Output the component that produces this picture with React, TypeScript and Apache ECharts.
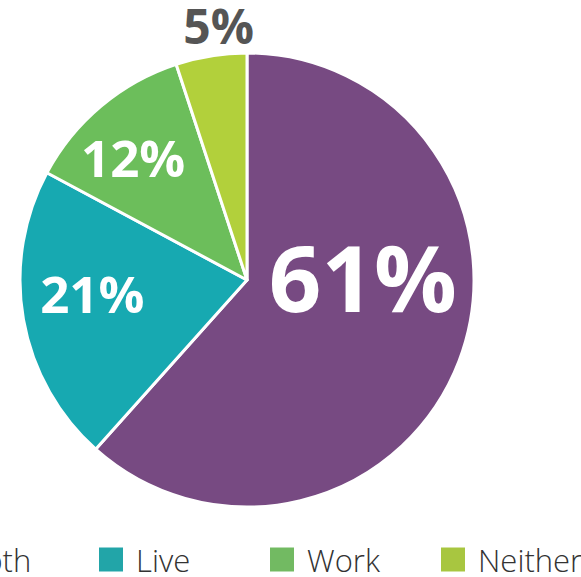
import React, { useEffect, useRef } from "react";
import * as echarts from "echarts";

const categories = ["Both", "Live", "Work", "Neither"];
const values = [61, 21, 12, 5];
const labels = ["61%", "21%", "12%", "5%"];

const colors = ["#774A82", "#17A9B1", "#6CBE5B", "#B2D03B"];
const legendColors = ["#774A82", "#22A5A8", "#72BA62", "#A8C640"];
const labelSizes = [92, 51, 51, 48];
const labelColors = ["#ffffff", "#ffffff", "#ffffff", "#555555"];
const labelShift = [
  [7, -45],
  [-40, -7],
  [-39, -34],
  [-10, -139],
];

export default function App() {
  const ref = useRef<HTMLDivElement>(null);
  useEffect(() => {
    const chart = echarts.init(ref.current!, null, { renderer: "svg" });
    chart.setOption({
      animation: false,
      color: colors,
      legend: {
        data: categories.map((name, i) => ({
          name,
          itemStyle: { color: legendColors[i] },
        })),
        left: -74,
        top: 544,
        width: 1200,
        padding: 0,
        itemGap: 0,
        itemWidth: 26,
        itemHeight: 26,
        icon: "rect",
        textStyle: {
          fontFamily: "'Open Sans', sans-serif",
          fontWeight: 300,
          fontSize: 31,
          color: "#333333",
          width: 132,
          lineHeight: 26,
          padding: [0, 0, 0, 7],
        },
      },
      series: [
        {
          type: "pie",
          center: [247, 280],
          radius: [0, 227],
          startAngle: 90,
          clockwise: true,
          itemStyle: { borderColor: "#ffffff", borderWidth: 3 },
          labelLine: { show: false },
          emphasis: { disabled: true },
          labelLayout: (params: any) => ({
            dx: labelShift[params.dataIndex][0],
            dy: labelShift[params.dataIndex][1],
          }),
          data: categories.map((name, i) => ({
            name,
            value: values[i],
            label: {
              show: true,
              position: "inside",
              formatter: labels[i],
              fontFamily: "'Open Sans', sans-serif",
              fontWeight: 700,
              fontSize: labelSizes[i],
              color: labelColors[i],
            },
          })),
        },
      ],
    });
    return () => chart.dispose();
  }, []);
  return (
    <div
      ref={ref}
      style={{ position: "absolute", left: 0, top: 0, width: 581, height: 577 }}
    />
  );
}
